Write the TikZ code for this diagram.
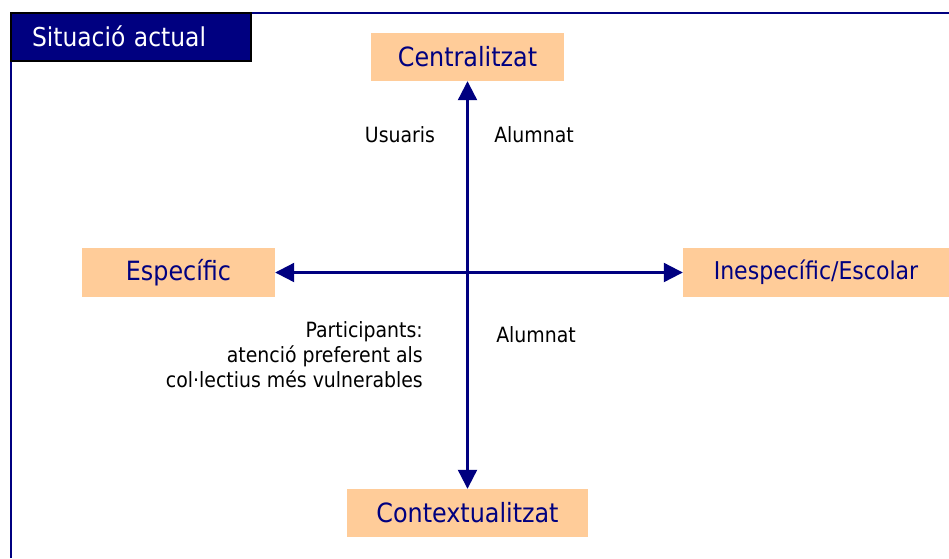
\documentclass[tikz,border=0pt]{standalone}
\usepackage{fontspec}
\setmainfont{DejaVu Sans Condensed}
\usetikzlibrary{arrows.meta}
\definecolor{navyblue}{RGB}{0,0,128}
\definecolor{peach}{RGB}{255,204,153}
\tikzstyle{pole} = [rectangle, minimum height=48pt, inner sep=0pt, text centered, fill=peach,
text=navyblue, font=\fontsize{26.5}{31}\selectfont]
\tikzstyle{note} = [inner sep=0pt, text=black, font=\fontsize{21}{25}\selectfont]

\begin{document}
\begin{tikzpicture}[x=1pt, y=-1pt]
    \useasboundingbox (0,0) rectangle (949,558);
    % frame and title
    \draw[navyblue, line width=2pt] (11,558) -- (11,13) -- (949,13);
    \node[draw=black, line width=2pt, fill=navyblue, text=white, minimum width=240pt, minimum height=48pt,
    inner sep=0pt, text width=198pt, align=left, font=\fontsize{26}{31}\selectfont](title) at (131,36.5) {Situació actual};

    \node(centralitzat)[pole, minimum width=193pt] at (467.5,57) {Centralitzat};
    \node(especific)[pole, minimum width=193pt, minimum height=49pt] at (178.5,272.5) {Específic};
    \node(inespecific)[pole, minimum width=266pt, minimum height=49pt, font=\fontsize{24.5}{29}\selectfont] at (816,272.5) {Inespecífic/Escolar};
    \node(contextualitzat)[pole, minimum width=241pt] at (467.5,513) {Contextualitzat};

    \draw[<->, >={Triangle[length=19pt,width=19pt]}, navyblue, line width=2.2pt] (centralitzat) -- (contextualitzat);
    \draw[<->, >={Triangle[length=19pt,width=19pt]}, navyblue, line width=2.2pt] (especific) -- (inespecific);

    \node(usuaris)[note] at (400,135) {Usuaris};
    \node(alumnatUp)[note] at (534,135) {Alumnat};
    \node(alumnatDown)[note] at (536,335) {Alumnat};
    \node(participants)[note, align=right, anchor=north east] at (423,321)
    {Participants:\\ atenció preferent als\\ col·lectius més vulnerables};
\end{tikzpicture}
\end{document}
